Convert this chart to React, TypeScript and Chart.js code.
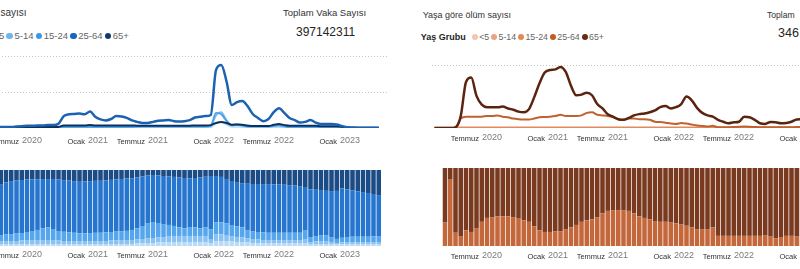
import React, { useEffect, useRef } from 'react';
import { Chart, registerables } from 'chart.js';

Chart.register(...registerables);

const FONT = '"Liberation Sans", Arial, sans-serif';
const STEP = 5.25; // px per half-month period

// ---------- categories (half-month periods, Feb 2020 .. Apr 2023) ----------
const periods: string[] = [];
for (let k = 0; k < 78; k++) {
  const mIdx = 1 + Math.floor(k / 2);
  const yr = 2020 + Math.floor(mIdx / 12);
  const mo = (mIdx % 12) + 1;
  periods.push(`${yr}-${String(mo).padStart(2, '0')}-${k % 2 === 0 ? '01' : '16'}`);
}

const ageGroups = ['<5', '5-14', '15-24', '25-64', '65+'];

// tick labels (index into periods)
const tickIndex = [10, 22, 34, 46, 58, 70];
const tickMonth = ['Temmuz', 'Ocak', 'Temmuz', 'Ocak', 'Temmuz', 'Ocak'];
const tickYear = ['2020', '2021', '2021', '2022', '2022', '2023'];

// ---------- cases by age (relative units) ----------
const casesUnder5 = [
  0.005, 0.005, 0.005, 0.005, 0.005, 0.005, 0.005, 0.005, 0.005, 0.005,
  0.005, 0.005, 0.005, 0.005, 0.005, 0.005, 0.005, 0.01, 0.01, 0.01,
  0.01, 0.01, 0.01, 0.01, 0.01, 0.01, 0.01, 0.01, 0.01, 0.01,
  0.01, 0.012, 0.012, 0.012, 0.012, 0.012, 0.012, 0.012, 0.012, 0.012,
  0.012, 0.012, 0.012, 0.015, 0.015, 0.02, 0.12, 0.16, 0.09, 0.03,
  0.03, 0.02, 0.015, 0.015, 0.015, 0.015, 0.015, 0.015, 0.015, 0.015,
  0.01, 0.01, 0.01, 0.01, 0.01, 0.01, 0.01, 0.01, 0.01, 0.01,
  0.003, 0.003, 0.003, 0.003, 0.003, 0.003, 0.003, 0.003,
];
const cases5to14 = [
  0.005, 0.005, 0.005, 0.005, 0.005, 0.005, 0.005, 0.005, 0.005, 0.005,
  0.005, 0.005, 0.005, 0.005, 0.005, 0.005, 0.005, 0.015, 0.015, 0.015,
  0.015, 0.015, 0.015, 0.015, 0.015, 0.015, 0.015, 0.015, 0.015, 0.015,
  0.015, 0.03, 0.03, 0.03, 0.03, 0.03, 0.03, 0.03, 0.03, 0.03,
  0.03, 0.03, 0.03, 0.03, 0.03, 0.05, 0.35, 0.44, 0.22, 0.07,
  0.08, 0.06, 0.035, 0.035, 0.035, 0.035, 0.035, 0.05, 0.06, 0.04,
  0.025, 0.025, 0.025, 0.025, 0.025, 0.025, 0.025, 0.025, 0.025, 0.025,
  0.004, 0.004, 0.004, 0.004, 0.004, 0.004, 0.004, 0.004,
];
const cases15to24 = [
  0.01, 0.01, 0.01, 0.01, 0.01, 0.01, 0.01, 0.01, 0.01, 0.01,
  0.01, 0.01, 0.01, 0.01, 0.01, 0.01, 0.01, 0.03, 0.03, 0.03,
  0.03, 0.03, 0.03, 0.03, 0.03, 0.03, 0.03, 0.03, 0.03, 0.03,
  0.03, 0.045, 0.045, 0.045, 0.045, 0.045, 0.045, 0.045, 0.045, 0.045,
  0.045, 0.045, 0.045, 0.045, 0.045, 0.06, 0.42, 0.38, 0.2, 0.08,
  0.1, 0.08, 0.045, 0.045, 0.045, 0.045, 0.045, 0.06, 0.08, 0.05,
  0.03, 0.03, 0.03, 0.03, 0.03, 0.03, 0.03, 0.03, 0.03, 0.03,
  0.005, 0.005, 0.005, 0.005, 0.005, 0.005, 0.005, 0.005,
];
const cases25to64 = [
  0.03, 0.04, 0.05, 0.05, 0.04, 0.03, 0.03, 0.03, 0.04, 0.05,
  0.06, 0.06, 0.07, 0.07, 0.08, 0.08, 0.12, 0.33, 0.38, 0.39,
  0.4, 0.38, 0.46, 0.31, 0.24, 0.21, 0.25, 0.33, 0.32, 0.28,
  0.21, 0.17, 0.14, 0.14, 0.17, 0.2, 0.21, 0.22, 0.19, 0.18,
  0.19, 0.22, 0.29, 0.31, 0.33, 0.36, 1.61, 1.75, 1.3, 0.64,
  0.72, 0.75, 0.61, 0.39, 0.28, 0.19, 0.25, 0.44, 0.55, 0.42,
  0.28, 0.22, 0.15, 0.17, 0.22, 0.15, 0.11, 0.11, 0.11, 0.1,
  0.055, 0.02, 0.015, 0.01, 0.01, 0.01, 0.01, 0.01,
];
const cases65plus = [
  0.02, 0.02, 0.02, 0.02, 0.02, 0.02, 0.02, 0.02, 0.02, 0.02,
  0.03, 0.03, 0.03, 0.03, 0.03, 0.03, 0.03, 0.07, 0.07, 0.07,
  0.07, 0.07, 0.08, 0.07, 0.07, 0.07, 0.07, 0.07, 0.07, 0.07,
  0.07, 0.065, 0.065, 0.065, 0.065, 0.065, 0.065, 0.065, 0.065, 0.065,
  0.065, 0.065, 0.07, 0.07, 0.07, 0.08, 0.14, 0.17, 0.14, 0.09,
  0.1, 0.09, 0.07, 0.055, 0.055, 0.055, 0.055, 0.09, 0.11, 0.08,
  0.06, 0.06, 0.06, 0.06, 0.06, 0.06, 0.05, 0.05, 0.05, 0.05,
  0.03, 0.01, 0.01, 0.01, 0.01, 0.01, 0.01, 0.01,
];

// ---------- share of cases by age (%) ----------
const caseShareUnder5 = [
  2.6, 2.6, 2.6, 2.6, 2.6, 2.6, 2.6, 2.6, 2.6, 2.6,
  2.6, 2.6, 2.6, 2.6, 2.6, 2.6, 2.6, 2.6, 2.6, 2.6,
  2.6, 2.6, 2.6, 2.6, 2.6, 2.6, 2.6, 2.6, 2.6, 2.6,
  2.6, 3.3, 3.3, 3.9, 3.9, 4.6, 4.6, 5.3, 5.3, 5.3,
  5.3, 5.3, 5.3, 5.3, 5.3, 3.9, 6.6, 6.6, 6.6, 5.9,
  5.3, 5.3, 4.6, 3.9, 3.9, 3.9, 3.9, 3.9, 3.9, 3.9,
  3.9, 3.9, 3.9, 3.9, 2.6, 2.6, 2.6, 2.6, 2.6, 2.0,
  2.0, 2.6, 2.6, 2.6, 2.6, 2.6, 2.6, 2.6,
];
const caseShare5to14 = [
  2.6, 2.6, 2.6, 2.6, 3.3, 3.9, 3.9, 3.9, 3.9, 4.6,
  5.3, 5.3, 5.3, 5.3, 5.3, 5.3, 4.6, 3.9, 3.9, 3.9,
  3.9, 3.9, 3.9, 3.9, 3.9, 3.9, 4.6, 4.6, 5.3, 5.3,
  5.3, 5.3, 5.9, 5.9, 6.6, 6.6, 7.2, 7.9, 7.9, 7.9,
  7.9, 7.9, 7.9, 7.9, 7.9, 5.3, 9.2, 8.6, 7.9, 7.2,
  6.6, 5.9, 5.3, 5.3, 4.6, 3.9, 3.9, 3.9, 3.9, 3.9,
  3.9, 3.9, 3.9, 5.3, 2.6, 3.3, 3.9, 3.9, 2.6, 2.0,
  2.6, 2.6, 2.6, 2.6, 2.6, 2.6, 2.6, 2.6,
];
const caseShare15to24 = [
  7.9, 7.9, 7.9, 8.6, 8.6, 7.9, 8.6, 9.2, 9.9, 9.9,
  10.5, 11.8, 13.2, 15.1, 16.4, 14.5, 12.5, 12.2, 11.6, 10.9,
  10.1, 10.3, 10.5, 10.8, 10.9, 11.3, 11.2, 11.7, 11.6, 12.0,
  13.2, 14.5, 17.1, 20.4, 21.1, 19.1, 17.1, 14.5, 13.2, 11.2,
  10.1, 11.8, 11.2, 10.1, 11.2, 12.5, 15.1, 15.8, 15.1, 14.5,
  14.2, 13.2, 11.2, 10.3, 9.9, 10.0, 9.6, 9.6, 9.6, 9.6,
  9.6, 9.6, 9.6, 11.8, 6.6, 7.2, 7.9, 7.2, 5.9, 5.3,
  6.2, 6.6, 7.0, 7.0, 7.0, 7.0, 7.4, 7.9,
];
const caseShare25to64 = [
  63.2, 63.2, 64.5, 65.1, 65.8, 67.1, 68.4, 69.7, 69.7, 69.7,
  69.1, 68.0, 66.8, 65.1, 63.8, 65.8, 67.8, 68.0, 68.0, 68.0,
  67.9, 68.0, 68.4, 68.4, 68.4, 68.6, 68.6, 68.7, 68.7, 68.9,
  68.2, 67.1, 65.1, 62.5, 61.8, 62.5, 63.2, 63.8, 64.5, 65.8,
  66.2, 64.1, 65.1, 66.8, 66.7, 70.4, 61.2, 59.9, 58.6, 57.9,
  57.1, 58.3, 60.8, 62.1, 63.2, 63.7, 64.1, 63.8, 63.4, 63.2,
  62.7, 62.1, 61.4, 56.6, 62.8, 60.9, 59.2, 58.9, 61.2, 63.2,
  64.9, 62.5, 61.2, 59.9, 58.8, 57.5, 55.8, 53.9,
];
const caseShare65plus = caseShare25to64.map(
  (v, i) => Math.round((100 - v - caseShare15to24[i] - caseShare5to14[i] - caseShareUnder5[i]) * 10) / 10
);

// ---------- deaths by age (relative units) ----------
const deathsUnder5 = [
  0, 0, 0, 0, 0.001, 0.001, 0.001, 0.001, 0.001, 0.001,
  0.001, 0.001, 0.001, 0.001, 0.001, 0.001, 0.001, 0.001, 0.001, 0.001,
  0.001, 0.001, 0.001, 0.001, 0.001, 0.001, 0.001, 0.001, 0.001, 0.001,
  0.001, 0.001, 0.001, 0.001, 0.001, 0.001, 0.001, 0.001, 0.001, 0.001,
  0.001, 0.001, 0.001, 0.001, 0.001, 0.001, 0.001, 0.001, 0.001, 0.001,
  0.001, 0.001, 0.001, 0.001, 0.001, 0.001, 0.001, 0.001, 0.001, 0.001,
  0.001, 0.001, 0.001, 0.001, 0.001, 0.001, 0.001, 0.001, 0.001, 0.001,
  0.001, 0.001, 0.001, 0.001, 0.001, 0.001, 0.001, 0.001,
];
const deaths5to14 = [
  0, 0, 0, 0, 0.002, 0.002, 0.002, 0.002, 0.002, 0.002,
  0.002, 0.002, 0.002, 0.002, 0.002, 0.002, 0.002, 0.002, 0.002, 0.002,
  0.002, 0.002, 0.002, 0.002, 0.002, 0.002, 0.002, 0.002, 0.002, 0.002,
  0.002, 0.002, 0.002, 0.002, 0.002, 0.002, 0.002, 0.002, 0.002, 0.002,
  0.002, 0.002, 0.002, 0.002, 0.002, 0.002, 0.002, 0.002, 0.002, 0.002,
  0.002, 0.002, 0.002, 0.002, 0.002, 0.002, 0.002, 0.002, 0.002, 0.002,
  0.002, 0.002, 0.002, 0.002, 0.002, 0.002, 0.002, 0.002, 0.002, 0.002,
  0.002, 0.002, 0.002, 0.002, 0.002, 0.002, 0.002, 0.002,
];
const deaths15to24 = [
  0.004, 0.004, 0.004, 0.004, 0.005, 0.006, 0.006, 0.006, 0.006, 0.006,
  0.006, 0.006, 0.006, 0.006, 0.006, 0.006, 0.006, 0.006, 0.006, 0.006,
  0.006, 0.006, 0.006, 0.006, 0.006, 0.006, 0.006, 0.006, 0.006, 0.006,
  0.006, 0.006, 0.006, 0.006, 0.006, 0.006, 0.006, 0.006, 0.006, 0.006,
  0.006, 0.006, 0.006, 0.006, 0.006, 0.006, 0.006, 0.006, 0.006, 0.006,
  0.006, 0.006, 0.006, 0.006, 0.006, 0.006, 0.006, 0.006, 0.006, 0.006,
  0.006, 0.006, 0.006, 0.006, 0.006, 0.006, 0.006, 0.006, 0.006, 0.006,
  0.006, 0.006, 0.006, 0.006, 0.006, 0.006, 0.006, 0.006,
];
const deaths25to64 = [
  0, 0, 0, 0, 0.01, 0.15, 0.18, 0.18, 0.18, 0.18,
  0.19, 0.19, 0.2, 0.18, 0.17, 0.15, 0.14, 0.135, 0.135, 0.15,
  0.17, 0.175, 0.18, 0.19, 0.21, 0.19, 0.19, 0.19, 0.2, 0.24,
  0.25, 0.21, 0.2, 0.19, 0.17, 0.14, 0.13, 0.15, 0.15, 0.14,
  0.14, 0.13, 0.1, 0.095, 0.085, 0.07, 0.065, 0.08, 0.07, 0.055,
  0.04, 0.03, 0.025, 0.035, 0.012, 0.012, 0.012, 0.014, 0.02, 0.022,
  0.02, 0.015, 0.012, 0.012, 0.012, 0.012, 0.012, 0.012, 0.013, 0.014,
  0.014, 0.013, 0.012, 0.012, 0.011, 0.011, 0.01, 0.01,
];
const deaths65plus = [
  0, 0, 0, 0, 0.01, 0.19, 0.73, 0.8, 0.51, 0.37,
  0.33, 0.33, 0.33, 0.34, 0.31, 0.29, 0.26, 0.25, 0.3, 0.49,
  0.71, 0.88, 0.92, 0.93, 0.97, 0.89, 0.67, 0.52, 0.53, 0.56,
  0.52, 0.38, 0.31, 0.22, 0.18, 0.14, 0.13, 0.16, 0.2, 0.22,
  0.23, 0.25, 0.28, 0.33, 0.35, 0.31, 0.33, 0.38, 0.5, 0.44,
  0.32, 0.24, 0.2, 0.18, 0.13, 0.1, 0.075, 0.09, 0.1, 0.18,
  0.17, 0.13, 0.075, 0.065, 0.095, 0.09, 0.075, 0.08, 0.1, 0.135,
  0.14, 0.12, 0.1, 0.09, 0.08, 0.07, 0.06, 0.05,
];

// ---------- share of deaths 25-64 (%) ----------
const deathShare25to64: (number | null)[] = [
  null, null, 30, 85, 17, 12, 20, 18, 23, 31,
  36, 37, 38, 38, 38, 37, 35, 33, 31, 25,
  20, 18, 18, 19, 19, 21, 24, 27, 31, 33,
  34, 37, 42, 45, 46, 46, 46, 45, 42, 38,
  36, 34, 32, 31, 31, 30, 29, 28, 26, 24,
  21, 21, 21, 24, 13, 13, 13, 13, 13, 13,
  13, 13, 13, 14, 12, 10, 11.5, 13, 13, 12,
  12, 12, 12, 12, 12, 12, 12, 12,
];
const deathShare65plus = deathShare25to64.map((v) => (v === null ? null : 100 - v));

// ---------- colours ----------
const caseLegendColors = ['#a8d2f5', '#6fb6ef', '#3b98e6', '#1766c2', '#0f3b6c'];
const deathLegendColors = ['#f3c5b0', '#eca385', '#e5865b', '#c45a28', '#6a2a12'];

const toXY = (arr: (number | null)[]) => arr.map((v, i) => ({ x: i, y: v }));

function makeDecor(grid: number[], labelY: number) {
  return {
    id: 'decor',
    beforeDatasetsDraw(chart: any) {
      const { ctx, chartArea, scales } = chart;
      ctx.save();
      ctx.strokeStyle = '#c4c4c4';
      ctx.lineWidth = 1;
      ctx.setLineDash([1, 2]);
      for (const v of grid) {
        const y = Math.round(scales.y.getPixelForValue(v)) + 0.5;
        ctx.beginPath();
        ctx.moveTo(chartArea.left, y);
        ctx.lineTo(chartArea.right, y);
        ctx.stroke();
      }
      ctx.restore();
    },
    afterDraw(chart: any) {
      const { ctx, scales } = chart;
      ctx.save();
      ctx.textBaseline = 'middle';
      ctx.textAlign = 'right';
      tickIndex.forEach((ti, k) => {
        const x = scales.x.getPixelForValue(ti);
        const word = tickMonth[k];
        const end = x + (word === 'Ocak' ? 18 : 15);
        ctx.font = `9px ${FONT}`;
        ctx.fillStyle = '#7b7b7b';
        ctx.fillText(tickYear[k], end, labelY);
        const yw = ctx.measureText(tickYear[k]).width;
        ctx.font = `7.5px ${FONT}`;
        ctx.fillStyle = '#333333';
        ctx.fillText(word, end - yw - 3, labelY + 1);
      });
      ctx.restore();
    },
  };
}

function baseOptions(xMin: number, xMax: number, yMin: number, yMax: number, padding: any, stacked: boolean) {
  return {
    responsive: false,
    animation: false,
    devicePixelRatio: 1,
    events: [],
    layout: { padding },
    plugins: { legend: { display: false }, tooltip: { enabled: false } },
    scales: {
      x: { type: 'linear', display: false, offset: false, min: xMin, max: xMax, stacked },
      y: { type: 'linear', display: false, min: yMin, max: yMax, stacked },
    },
  };
}

const lineDs = (label: string, arr: number[], color: string, width: number) => ({
  label,
  data: toXY(arr),
  borderColor: color,
  backgroundColor: color,
  borderWidth: width,
  pointRadius: 0,
  cubicInterpolationMode: 'monotone',
  fill: false,
});

const barDs = (label: string, arr: (number | null)[], color: string) => ({
  label,
  data: toXY(arr),
  backgroundColor: color,
  borderWidth: 0,
  barPercentage: 0.86,
  categoryPercentage: 1,
});

// layout: page x of period index 0
const LEFT_X0 = -25.5;
const RIGHT_X0 = 434.5;

function ChartBox(props: { left: number; top: number; width: number; height: number; build: () => any }) {
  const ref = useRef<HTMLCanvasElement>(null);
  useEffect(() => {
    const chart = new Chart(ref.current as HTMLCanvasElement, props.build());
    return () => chart.destroy();
  }, []);
  return (
    <canvas
      ref={ref}
      width={props.width}
      height={props.height}
      style={{ position: 'absolute', left: props.left, top: props.top, width: props.width, height: props.height }}
    />
  );
}

function Legend(props: { left: number; top: number; colors: string[]; size: number; dot: number; gap: number }) {
  return (
    <div
      style={{
        position: 'absolute',
        left: props.left,
        top: props.top,
        display: 'flex',
        alignItems: 'center',
        whiteSpace: 'nowrap',
        fontFamily: FONT,
        fontSize: props.size,
        color: '#666',
        height: 12,
        lineHeight: '12px',
      }}
    >
      <span style={{ fontWeight: 'bold', color: '#252423', marginRight: 6, fontSize: props.size + 0.2 }}>Yaş Grubu</span>
      {ageGroups.map((g, k) => (
        <span key={g} style={{ display: 'flex', alignItems: 'center', marginRight: props.gap }}>
          <span
            style={{
              display: 'inline-block',
              width: props.dot,
              height: props.dot,
              borderRadius: '50%',
              background: props.colors[k],
              marginRight: 1.5,
            }}
          />
          {g}
        </span>
      ))}
    </div>
  );
}

const textStyle = (left: number, centerY: number, size: number, color: string, extra: any = {}) => ({
  position: 'absolute' as const,
  left,
  top: centerY - size * 0.6,
  fontFamily: FONT,
  fontSize: size,
  lineHeight: `${size * 1.2}px`,
  color,
  whiteSpace: 'nowrap' as const,
  ...extra,
});

export default function App() {
  const leftLine = () => {
    const o: any = baseOptions((-40 - LEFT_X0) / STEP, (387 - LEFT_X0) / STEP, 0, 2, { top: 6, bottom: 22, left: 0, right: 0 }, false);
    return {
      type: 'line',
      data: {
        labels: periods,
        datasets: [
          lineDs('25-64', cases25to64, '#1c62b0', 2.5),
          lineDs('65+', cases65plus, '#0c2f5c', 2),
          lineDs('15-24', cases15to24, '#4aa1ea', 1.8),
          lineDs('5-14', cases5to14, '#7dbdf1', 1.8),
          lineDs('<5', casesUnder5, '#b7daf6', 1.5),
        ],
      },
      options: o,
      plugins: [makeDecor([1, 2], 91)],
    };
  };
  const leftBar = () => {
    const o: any = baseOptions((-40 - LEFT_X0) / STEP, (387 - LEFT_X0) / STEP, 0, 100, { top: 10, bottom: 23, left: 0, right: 0 }, true);
    return {
      type: 'bar',
      data: {
        labels: periods,
        datasets: [
          barDs('<5', caseShareUnder5, '#b9dbf7'),
          barDs('5-14', caseShare5to14, '#8ac3f2'),
          barDs('15-24', caseShare15to24, '#55a6ec'),
          barDs('25-64', caseShare25to64, '#2676cf'),
          barDs('65+', caseShare65plus, '#1c4c85'),
        ],
      },
      options: o,
      plugins: [makeDecor([], 95)],
    };
  };
  const rightLine = () => {
    const o: any = baseOptions((432 - RIGHT_X0) / STEP, (800 - RIGHT_X0) / STEP, 0, 1, { top: 10, bottom: 22, left: 0, right: 0 }, false);
    return {
      type: 'line',
      data: {
        labels: periods,
        datasets: [
          lineDs('65+', deaths65plus, '#5a2410', 2.5),
          lineDs('25-64', deaths25to64, '#c0622f', 2),
          lineDs('15-24', deaths15to24, '#e2895e', 2),
          lineDs('5-14', deaths5to14, '#eca481', 1.5),
          lineDs('<5', deathsUnder5, '#f2c3ab', 1.5),
        ],
      },
      options: o,
      plugins: [makeDecor([1], 83)],
    };
  };
  const rightBar = () => {
    const o: any = baseOptions((432 - RIGHT_X0) / STEP, (800 - RIGHT_X0) / STEP, 0, 100, { top: 8, bottom: 23, left: 0, right: 0 }, true);
    return {
      type: 'bar',
      data: {
        labels: periods,
        datasets: [
          barDs('25-64', deathShare25to64, '#c4673a'),
          barDs('65+', deathShare65plus, '#7a3a20'),
        ],
      },
      options: o,
      plugins: [makeDecor([], 96)],
    };
  };

  return (
    <div
      style={{
        position: 'fixed',
        left: 0,
        top: 0,
        width: 800,
        height: 269,
        overflow: 'hidden',
        background: '#ffffff',
      }}
    >
      {/* left panel texts */}
      <div style={textStyle(-71, 12.5, 10, '#333')}>Yaşa göre vaka sayısı</div>
      <Legend left={-69} top={30} colors={caseLegendColors} size={9.5} dot={6.5} gap={2.2} />
      <div style={textStyle(283, 12.3, 9.5, '#333')}>Toplam Vaka Sayısı</div>
      <div style={textStyle(296, 31.7, 12, '#252423')}>397142311</div>

      {/* right panel texts */}
      <div style={textStyle(422.7, 15.5, 9, '#333')}>Yaşa göre ölüm sayısı</div>
      <Legend left={420.7} top={30.7} colors={deathLegendColors} size={8.8} dot={6} gap={1.8} />
      <div style={textStyle(767, 15, 8.6, '#333', { width: 30, overflow: 'hidden' })}>Toplam Ölüm Sayısı</div>
      <div style={textStyle(778, 33.3, 12.5, '#252423')}>346</div>

      <ChartBox left={-40} top={50} width={427} height={100} build={leftLine} />
      <ChartBox left={-40} top={160} width={427} height={109} build={leftBar} />
      <ChartBox left={432} top={55} width={368} height={95} build={rightLine} />
      <ChartBox left={432} top={160} width={368} height={109} build={rightBar} />
    </div>
  );
}
